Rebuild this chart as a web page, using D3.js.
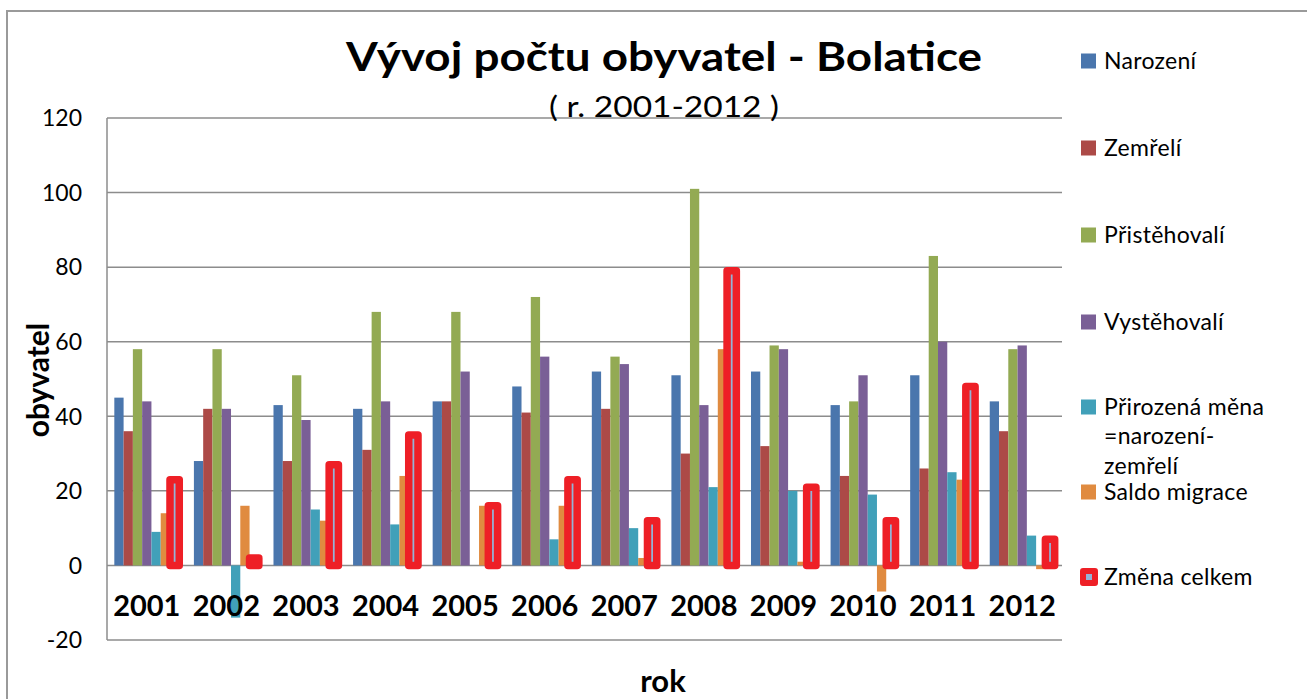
<!DOCTYPE html>
<html>
<head>
<meta charset="utf-8">
<script src="https://cdn.jsdelivr.net/npm/d3@7"></script>
<style>
  body { margin: 0; background: #fff; }
  text { font-family: Lato, "Open Sans", sans-serif; fill: #000; }
</style>
</head>
<body>
<div id="canvas"></div>
<script>
const years = ["2001","2002","2003","2004","2005","2006","2007","2008","2009","2010","2011","2012"];
const narozeni     = [45, 28, 43, 42, 44, 48, 52, 51, 52, 43, 51, 44];
const zemreli      = [36, 42, 28, 31, 44, 41, 42, 30, 32, 24, 26, 36];
const pristehovali = [58, 58, 51, 68, 68, 72, 56, 101, 59, 44, 83, 58];
const vystehovali  = [44, 42, 39, 44, 52, 56, 54, 43, 58, 51, 60, 59];
const prirozena    = [9, -14, 15, 11, 0, 7, 10, 21, 20, 19, 25, 8];
const saldo        = [14, 16, 12, 24, 16, 16, 2, 58, 1, -7, 23, -1];
const zmena        = [23, 2, 27, 35, 16, 23, 12, 79, 21, 12, 48, 7];
const yTicks = [-20, 0, 20, 40, 60, 80, 100, 120];

const seriesNames = ["Narození", "Zemřelí", "Přistěhovalí", "Vystěhovalí",
                     "Přirozená měna =narození-zemřelí", "Saldo migrace", "Změna celkem"];
const seriesData = [narozeni, zemreli, pristehovali, vystehovali, prirozena, saldo, zmena];
const colors = ["#4A76AD", "#AC4A47", "#93AA53", "#7A5F96", "#41A0B9", "#E08B40", "#95B3D7"];
const red = "#EE1F26";

const w = 1307;
const h = 699;
const plot = { left: 107, right: 1062, top: 118, bottom: 640 };

function render(){
  let svg = d3.select("#canvas")
              .append("svg")
              .attr("width", w)
              .attr("height", h)
              .style("display", "block");

  // outer chart frame
  svg.append("path")
     .attr("d", `M7,${h + 5} L7,11 L${w + 5},11`)
     .attr("fill", "none")
     .attr("stroke", "#9a9a9a")
     .attr("stroke-width", 2);

  let x0 = d3.scaleBand()
             .domain(years)
             .range([plot.left, plot.right]);

  let x1 = d3.scaleBand()
             .domain(d3.range(seriesNames.length))
             .range([x0.bandwidth() * 0.092, x0.bandwidth() * 0.908]);

  let y = d3.scaleLinear()
            .domain([-20, 120])
            .range([plot.bottom, plot.top]);

  // gridlines
  svg.append("g")
     .selectAll("line")
     .data(yTicks)
     .enter()
       .append("line")
       .attr("x1", plot.left)
       .attr("x2", plot.right)
       .attr("y1", d => y(d))
       .attr("y2", d => y(d))
       .attr("stroke", "#8c8c8c")
       .attr("stroke-width", 1.5);

  svg.append("line")
     .attr("x1", plot.left).attr("x2", plot.left)
     .attr("y1", plot.top).attr("y2", plot.bottom)
     .attr("stroke", "#8c8c8c")
     .attr("stroke-width", 1.5);

  // y tick labels
  svg.append("g")
     .selectAll("text")
     .data(yTicks)
     .enter()
       .append("text")
       .attr("x", 82)
       .attr("y", d => y(d))
       .attr("dy", "0.36em")
       .attr("text-anchor", "end")
       .style("font-size", "23px")
       .text(d => d);

  // bars
  let groups = svg.append("g")
                  .selectAll("g")
                  .data(years)
                  .enter()
                    .append("g")
                    .attr("transform", d => `translate(${x0(d)},0)`);

  groups.selectAll("rect")
        .data((d, i) => seriesData.map((s, k) => ({ k: k, v: s[i] })))
        .enter()
          .append("rect")
          .attr("x", d => x1(d.k))
          .attr("width", x1.bandwidth())
          .attr("y", d => y(Math.max(0, d.v)))
          .attr("height", d => Math.abs(y(d.v) - y(0)))
          .attr("fill", d => colors[d.k])
          .attr("stroke", d => d.k === 6 ? red : "none")
          .attr("stroke-width", d => d.k === 6 ? 7.5 : 0)
          .attr("stroke-linejoin", "round");

  // year labels
  svg.append("g")
     .selectAll("text")
     .data(years)
     .enter()
       .append("text")
       .attr("x", d => x0(d) + x0.bandwidth() / 2)
       .attr("y", 616)
       .attr("text-anchor", "middle")
       .style("font-size", "29px")
       .style("font-weight", "bold")
       .text(d => d);

  // titles
  svg.append("text")
     .attr("x", 664).attr("y", 71)
     .attr("text-anchor", "middle")
     .attr("textLength", 636)
     .attr("lengthAdjust", "spacingAndGlyphs")
     .style("font-size", "41px")
     .style("font-weight", "bold")
     .text("Vývoj počtu obyvatel - Bolatice");

  svg.append("text")
     .attr("x", 664).attr("y", 117)
     .attr("text-anchor", "middle")
     .attr("textLength", 230)
     .attr("lengthAdjust", "spacingAndGlyphs")
     .style("font-size", "28px")
     .text("( r. 2001-2012 )");

  svg.append("text")
     .attr("transform", "translate(49,380) rotate(-90)")
     .attr("text-anchor", "middle")
     .style("font-size", "30px")
     .style("font-weight", "bold")
     .text("obyvatel");

  svg.append("text")
     .attr("x", 663).attr("y", 692)
     .attr("text-anchor", "middle")
     .style("font-size", "31px")
     .style("font-weight", "bold")
     .text("rok");

  // legend
  const legendY = [61, 148, 235, 322, 407, 492, 577];
  const legendLines = [["Narození"], ["Zemřelí"], ["Přistěhovalí"], ["Vystěhovalí"],
                       ["Přirozená měna", "=narození-", "zemřelí"], ["Saldo migrace"], ["Změna celkem"]];

  let legend = svg.append("g")
                  .selectAll("g")
                  .data(seriesNames)
                  .enter()
                    .append("g")
                    .attr("transform", (d, i) => `translate(1081,${legendY[i]})`);

  legend.append("rect")
        .attr("x", (d, i) => i === 6 ? 2 : 0)
        .attr("y", (d, i) => i === 6 ? -6 : -7.5)
        .attr("width", (d, i) => i === 6 ? 12 : 15)
        .attr("height", (d, i) => i === 6 ? 12 : 15)
        .attr("fill", (d, i) => colors[i])
        .attr("stroke", (d, i) => i === 6 ? red : "none")
        .attr("stroke-width", (d, i) => i === 6 ? 6 : 0)
        .attr("stroke-linejoin", "round");

  legend.each(function(d, i){
    let t = d3.select(this).append("text")
              .attr("x", 23)
              .attr("y", 0)
              .style("font-size", "23px")
              .style("letter-spacing", "0.3px");
    legendLines[i].forEach((line, j) => {
      t.append("tspan")
       .attr("x", 23)
       .attr("dy", j === 0 ? "0.36em" : "1.27em")
       .text(line);
    });
  });
}

render();
</script>
</body>
</html>
